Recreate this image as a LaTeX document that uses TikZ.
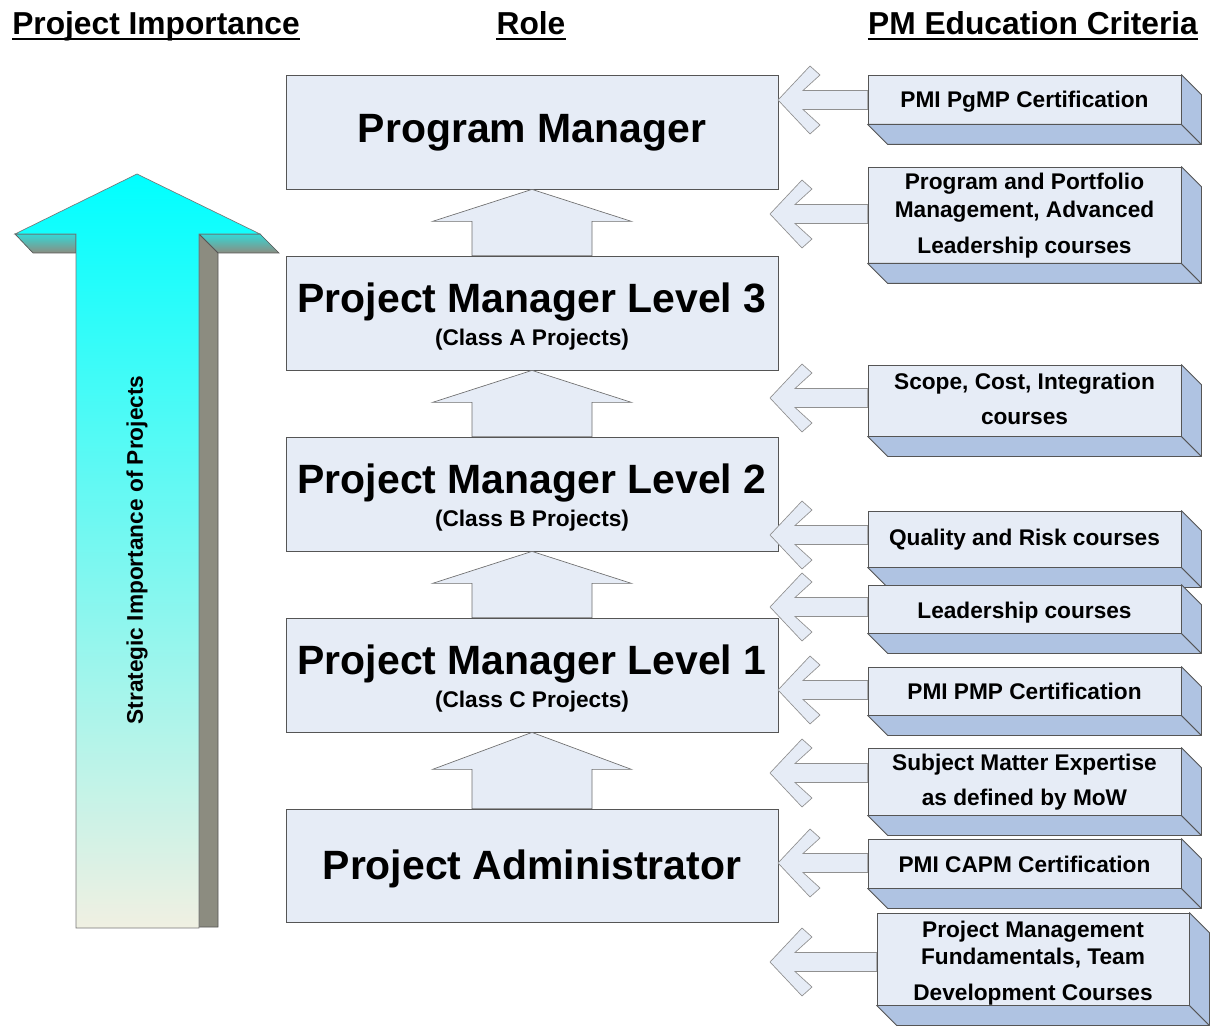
\documentclass[tikz,border=0pt]{standalone}
\usepackage{fontspec}
\setmainfont{Liberation Sans}
\usetikzlibrary{calc,fit}
\definecolor{boxfill}{HTML}{E6ECF6}
\definecolor{boxedge}{HTML}{555555}
\definecolor{sidefill}{HTML}{AFC3E2}
\definecolor{shaftside}{HTML}{8C8C80}
\definecolor{paleend}{HTML}{F0F0E2}
\definecolor{underteal}{HTML}{34D8D6}

% front panel of a criteria box plus its bottom and right faces
\newcommand\critpanel[5]{%
  \node[critbox, fit={(#2,#3) (#4,#5)}] (#1) {};
  \draw[critside] (#1.south west) -- (#1.south east) -- ($(#1.south east)+(20,20)$)
        -- ($(#1.south west)+(20,20)$) -- cycle;
  \draw[critside] (#1.north east) -- ($(#1.north east)+(20,20)$)
        -- ($(#1.south east)+(20,20)$) -- (#1.south east) -- cycle;
}
% block arrow pointing left from a criteria box to a tip coordinate
\newcommand\blockleft[2]{%
  \draw[leftarrow] (#1) -- ++(32,-34) -- ++(10,9) -- ++(-17,15.5)
     -- ($(#2.west |- #1)+(0,-9.5)$) -- ($(#2.west |- #1)+(0,9.5)$)
     -- ($(#1)+(25,9.5)$) -- ++(17,15.5) -- ++(-10,9) -- cycle;
}
% block arrow pointing up from a lower role box to the one above
\newcommand\stepup[3]{%
  \draw[uparrow] (#1.south) -- ($(#1.south)+(99.5,#3)$) -- ($(#1.south)+(60,#3)$)
     -- ($(#2.north)+(60,0)$) -- ($(#2.north)+(-60,0)$)
     -- ($(#1.south)+(-60,#3)$) -- ($(#1.south)+(-99.5,#3)$) -- cycle;
}

\begin{document}
\begin{tikzpicture}[x=0.75pt,y=-0.75pt,
  rolebox/.style={draw=boxedge, fill=boxfill, line width=0.6pt, inner sep=0pt},
  critbox/.style={draw=boxedge, fill=boxfill, line width=0.6pt, inner sep=0pt},
  critside/.style={draw=boxedge, fill=sidefill, line width=0.6pt, line join=round},
  uparrow/.style={draw=boxedge!85, fill=boxfill, line width=0.5pt},
  leftarrow/.style={draw=boxedge!65, fill=boxfill, line width=0.5pt, line join=miter},
  roletitle/.style={font=\fontsize{30.7}{36}\selectfont\bfseries, anchor=base, inner sep=0pt},
  rolesub/.style={font=\fontsize{17}{20}\selectfont\bfseries, anchor=base, inner sep=0pt},
  crittext/.style={font=\fontsize{17}{20}\selectfont\bfseries, anchor=base, inner sep=0pt},
  header/.style={font=\fontsize{23.8}{28}\selectfont\bfseries, anchor=base, inner sep=0pt},
  underbar/.style={line width=1.6pt},
]
\useasboundingbox (0,0) rectangle (1211,1027);

% column headers
\node[header] (h1) at (156,34.5) {Project Importance};
\node[header] (h2) at (531,34.5) {Role};
\node[header] (h3) at (1033,34.5) {PM Education Criteria};
\foreach \h in {h1,h2,h3}
  \draw[underbar] ($(\h.base west)+(0,4.5)$) -- ($(\h.base east)+(0,4.5)$);

% big importance arrow: under faces, side face, then the shaded front
\shade[top color=underteal, bottom color=shaftside, draw=boxedge, line width=0.5pt]
  (15,234) -- (76,234) -- (76,253) -- (33,253) -- cycle;
\shade[top color=underteal, bottom color=shaftside, draw=boxedge, line width=0.5pt]
  (199,234) -- (260,234) -- (279,253) -- (218,253) -- cycle;
\draw[fill=shaftside, draw=boxedge, line width=0.6pt]
  (199,234) -- (218,253) -- (218,927) -- (199,927) -- cycle;
\shadedraw[top color=cyan, bottom color=paleend, draw=boxedge!80, line width=0.5pt]
  (137,174) -- (260,234) -- (199,234) -- (199,928) -- (76,928) -- (76,234) -- (15,234) -- cycle;
\node[rotate=90, font=\fontsize{17}{20}\selectfont\bfseries] (strat) at (137,550)
  {Strategic Importance of Projects};

% role boxes
\node[rolebox, fit={(286,75) (778,189)}] (pm) {};
\node[rolebox, fit={(286,256) (778,370)}] (l3) {};
\node[rolebox, fit={(286,437) (778,551)}] (l2) {};
\node[rolebox, fit={(286,618) (778,732)}] (l1) {};
\node[rolebox, fit={(286,809) (778,922)}] (ad) {};

\node[roletitle] (pmT) at (532,143) {Program Manager};
\node[roletitle] (l3T) at (532,312) {Project Manager Level 3};
\node[rolesub]   (l3S) at (532,345) {(Class A Projects)};
\node[roletitle] (l2T) at (532,493) {Project Manager Level 2};
\node[rolesub]   (l2S) at (532,526) {(Class B Projects)};
\node[roletitle] (l1T) at (532,674) {Project Manager Level 1};
\node[rolesub]   (l1S) at (532,707) {(Class C Projects)};
\node[roletitle] (adT) at (532,879) {Project Administrator};

% progression arrows between roles
\stepup{pm}{l3}{32}
\stepup{l3}{l2}{32}
\stepup{l2}{l1}{32}
\stepup{l1}{ad}{37}

% education criteria boxes
\critpanel{c1}{868}{75}{1181}{124}
\critpanel{c2}{868}{167}{1181}{263}
\critpanel{c3}{868}{365}{1181}{436}
\critpanel{c4}{868}{511}{1181}{567}
\critpanel{c5}{868}{585}{1181}{633}
\critpanel{c6}{868}{667}{1181}{715}
\critpanel{c7}{868}{748}{1181}{815}
\critpanel{c8}{868}{839}{1181}{888}
\critpanel{c9}{877}{913}{1189}{1005}

\node[crittext] (c1a) at (1024.5,108) {PMI PgMP Certification};
\node[crittext] (c2a) at (1024.5,190) {Program and Portfolio};
\node[crittext] (c2b) at (1024.5,218) {Management, Advanced};
\node[crittext] (c2c) at (1024.5,253) {Leadership courses};
\node[crittext] (c3a) at (1024.5,389) {Scope, Cost, Integration};
\node[crittext] (c3b) at (1024.5,424) {courses};
\node[crittext] (c4a) at (1024.5,545) {Quality and Risk courses};
\node[crittext] (c5a) at (1024.5,618) {Leadership courses};
\node[crittext] (c6a) at (1024.5,699) {PMI PMP Certification};
\node[crittext] (c7a) at (1024.5,770) {Subject Matter Expertise};
\node[crittext] (c7b) at (1024.5,805) {as defined by MoW};
\node[crittext] (c8a) at (1024.5,872) {PMI CAPM Certification};
\node[crittext] (c9a) at (1033,937) {Project Management};
\node[crittext] (c9b) at (1033,964) {Fundamentals, Team};
\node[crittext] (c9c) at (1033,1000) {Development Courses};

% arrows from each criterion toward the roles
\coordinate (a1) at (778,100);
\coordinate (a2) at (770,214);
\coordinate (a3) at (770,398);
\coordinate (a4) at (770,535);
\coordinate (a5) at (770,607);
\coordinate (a6) at (778,690);
\coordinate (a7) at (770,773);
\coordinate (a8) at (778,863);
\coordinate (a9) at (770,962);
\blockleft{a1}{c1}
\blockleft{a2}{c2}
\blockleft{a3}{c3}
\blockleft{a4}{c4}
\blockleft{a5}{c5}
\blockleft{a6}{c6}
\blockleft{a7}{c7}
\blockleft{a8}{c8}
\blockleft{a9}{c9}
\end{tikzpicture}
\end{document}
